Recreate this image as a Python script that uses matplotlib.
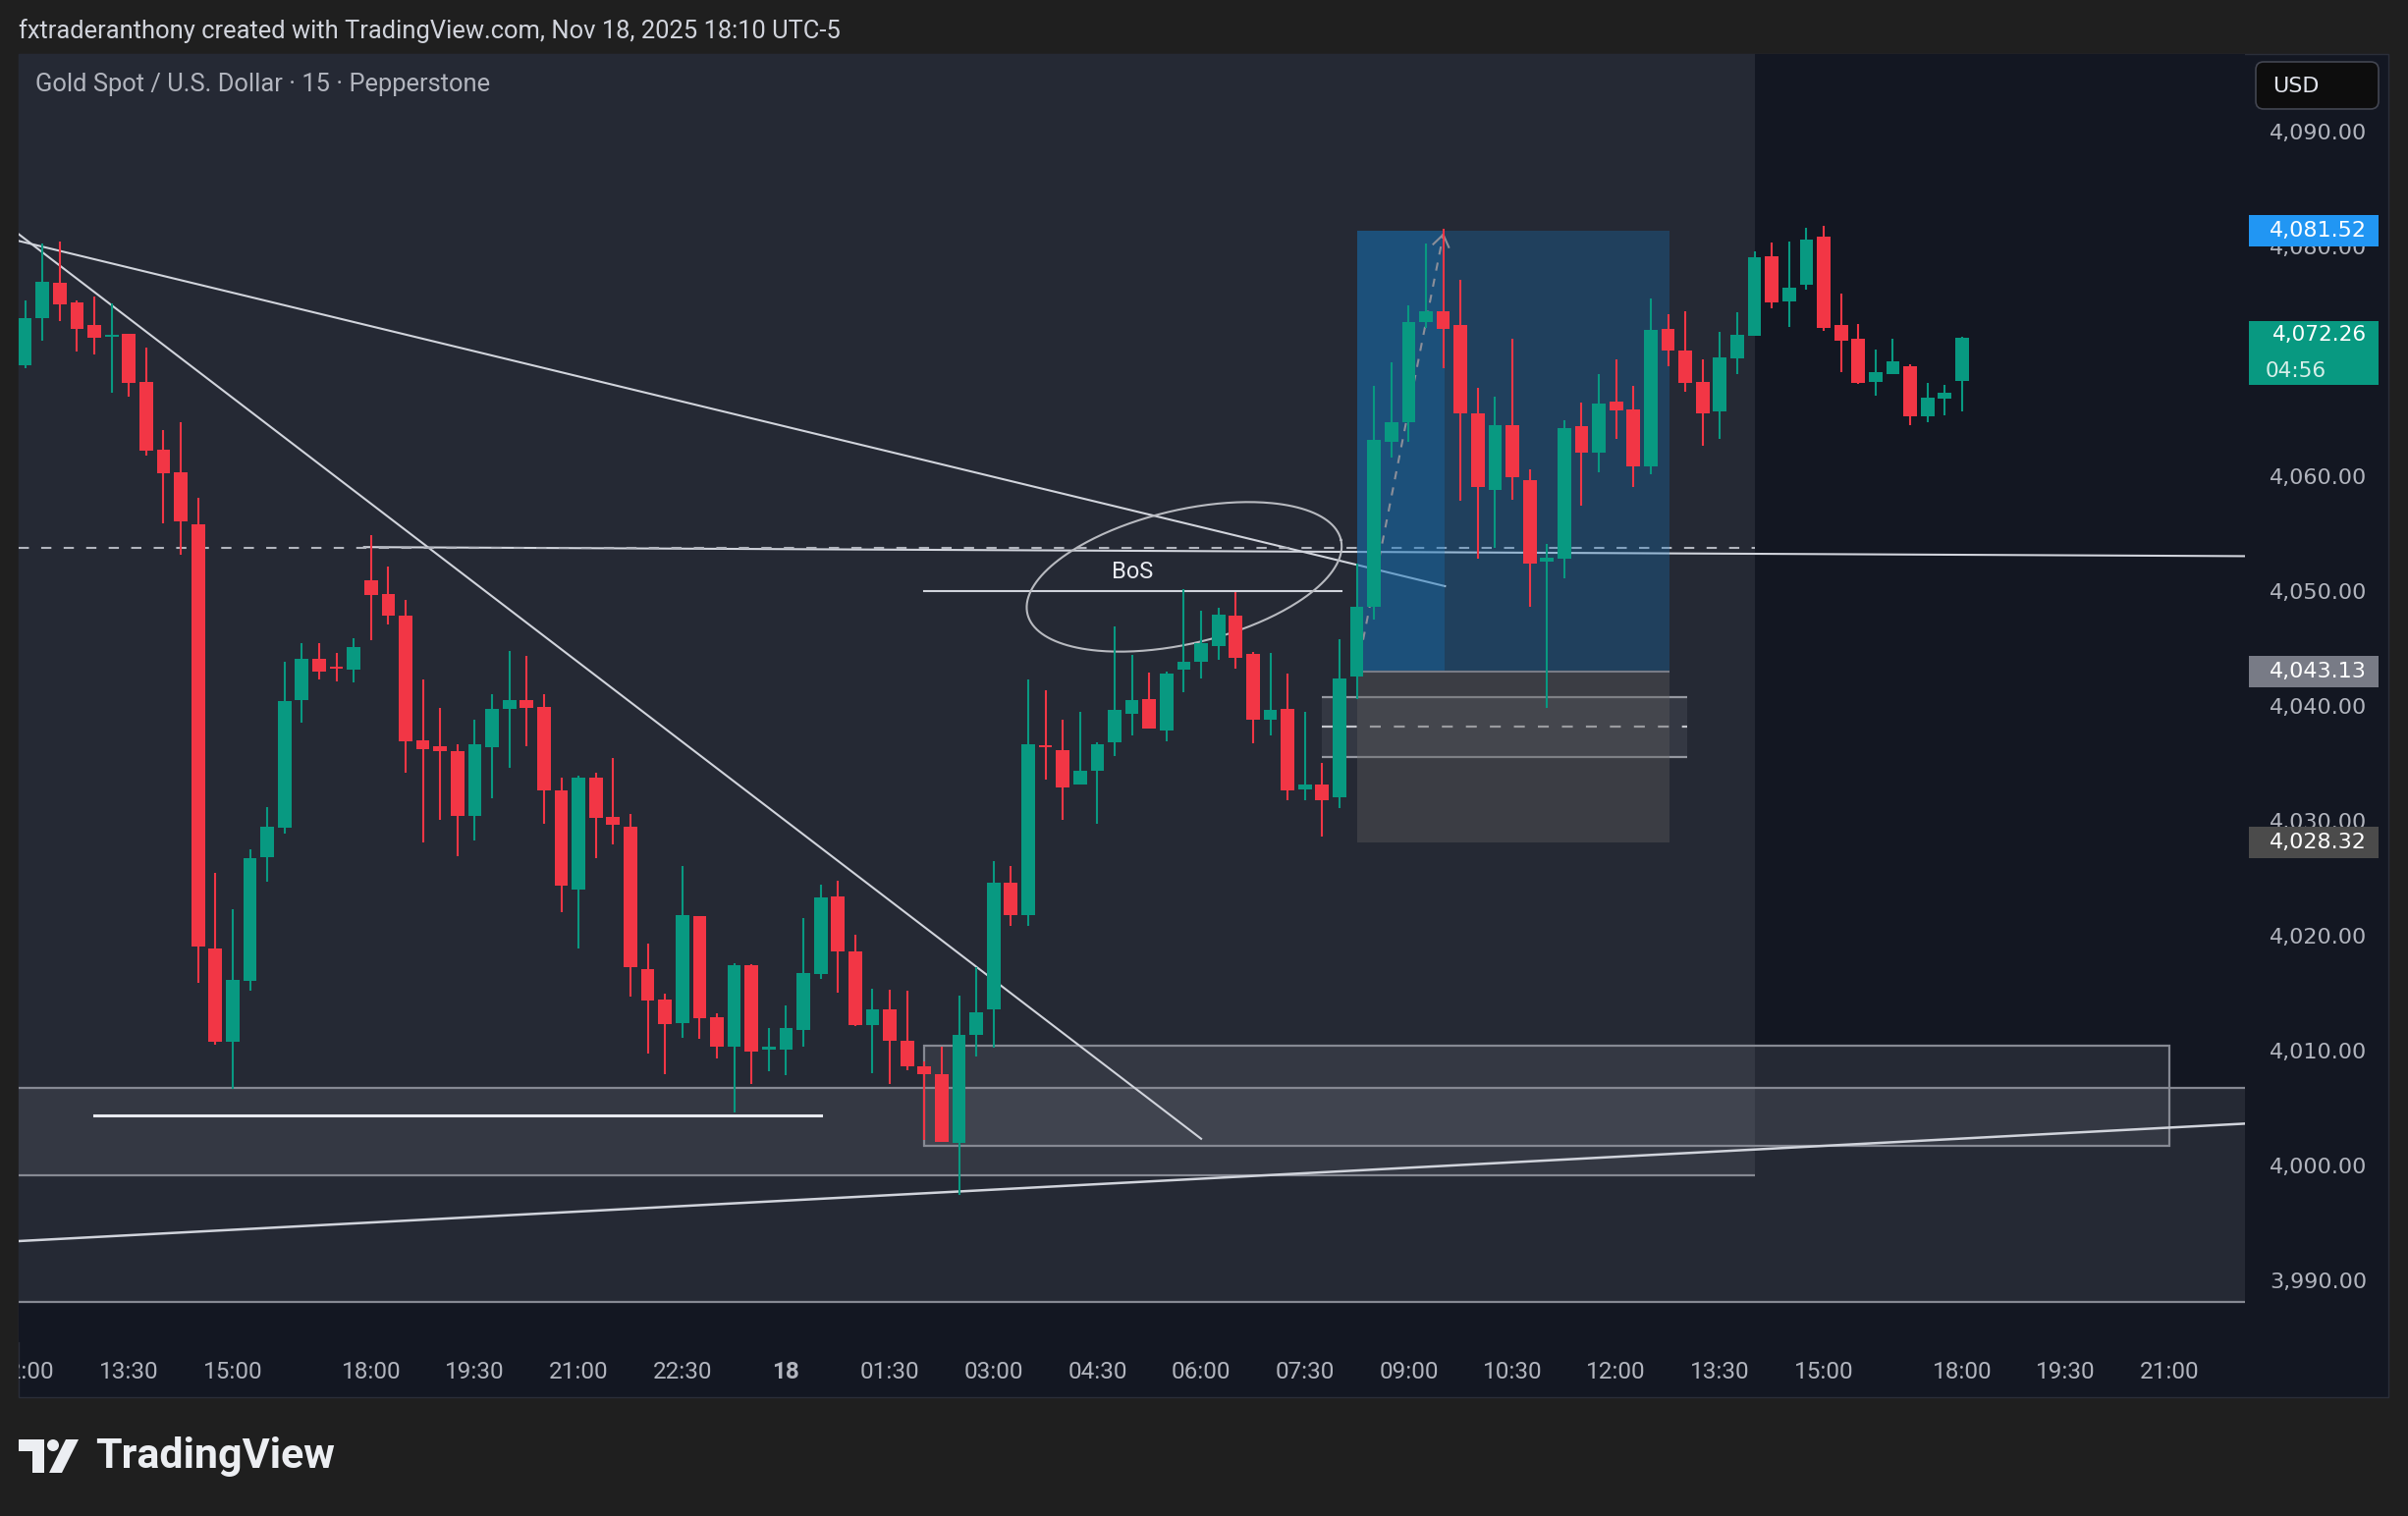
import numpy as np
import matplotlib.pyplot as plt
from matplotlib.patches import Rectangle, FancyBboxPatch, Polygon, Circle
from matplotlib.transforms import Affine2D, Bbox, TransformedBbox, blended_transform_factory

plt.rcParams['font.family'] = ['Roboto', 'DejaVu Sans']

W, H = 2452, 1544

# XAUUSD 15m candles, Nov 17 12:00 -> Nov 18 18:00 (market shut 17:00-18:00)
opens = [4069.8, 4073.9, 4077.0, 4075.3, 4073.3, 4072.3, 4072.6, 4068.4, 4062.5, 4060.5,
         4056.0, 4019.1, 4010.9, 4016.2, 4027.0, 4029.6, 4040.7, 4044.3, 4043.6, 4043.3,
         4051.1, 4049.9, 4048.0, 4037.2, 4036.7, 4036.2, 4030.6, 4036.6, 4039.9, 4040.7,
         4040.1, 4032.8, 4024.2, 4033.9, 4030.5, 4029.7, 4017.3, 4014.6, 4012.6, 4021.9,
         4013.1, 4010.5, 4017.6, 4010.3, 4010.3, 4012.0, 4016.8, 4023.6, 4018.8, 4012.4,
         4013.8, 4011.0, 4008.8, 4008.1, 4002.1, 4011.5, 4013.8, 4024.8, 4022.0, 4036.7,
         4036.3, 4033.3, 4034.5, 4037.0, 4039.5, 4040.8, 4038.0, 4043.3, 4044.0, 4045.4,
         4048.0, 4044.7, 4039.0, 4039.9, 4032.9, 4033.3, 4032.2, 4042.7, 4048.8, 4063.2,
         4064.9, 4073.6, 4074.5, 4073.3, 4065.6, 4059.0, 4064.6, 4059.8, 4052.7, 4053.0,
         4064.5, 4062.2, 4066.7, 4066.0, 4061.0, 4073.0, 4071.1, 4068.4, 4065.8, 4070.4,
         4072.4, 4079.3, 4075.4, 4076.8, 4081.0, 4073.3, 4072.1, 4068.4, 4069.1, 4069.7,
         4065.4, 4066.9, 4068.5]
highs = [4075.5, 4080.4, 4080.6, 4075.5, 4075.8, 4075.2, 4072.6, 4071.4, 4064.2, 4064.9,
         4058.3, 4025.6, 4022.5, 4027.7, 4031.4, 4044.0, 4045.6, 4045.6, 4044.8, 4046.1,
         4055.0, 4052.3, 4049.4, 4042.5, 4040.0, 4036.8, 4039.0, 4041.2, 4045.0, 4044.5,
         4041.2, 4033.9, 4034.1, 4034.4, 4035.6, 4030.8, 4019.5, 4015.1, 4026.2, 4021.9,
         4013.4, 4017.8, 4017.7, 4012.1, 4014.1, 4021.7, 4024.6, 4025.0, 4020.3, 4015.6,
         4015.5, 4015.4, 4009.2, 4010.5, 4015.0, 4017.4, 4026.7, 4026.2, 4042.5, 4041.5,
         4039.0, 4039.7, 4037.0, 4047.1, 4044.6, 4043.1, 4043.2, 4050.3, 4048.5, 4048.7,
         4050.1, 4044.9, 4044.8, 4043.0, 4039.7, 4035.2, 4046.0, 4052.6, 4068.0, 4070.1,
         4075.0, 4080.4, 4081.7, 4077.3, 4067.9, 4067.1, 4072.1, 4060.8, 4054.3, 4065.0,
         4066.6, 4069.1, 4070.3, 4068.0, 4075.6, 4074.3, 4074.5, 4070.3, 4072.7, 4074.4,
         4079.7, 4080.5, 4080.6, 4081.8, 4082.0, 4076.1, 4073.4, 4071.2, 4072.1, 4069.9,
         4068.3, 4068.1, 4072.3]
lows = [4069.6, 4072.0, 4073.7, 4071.0, 4070.8, 4067.4, 4067.1, 4062.0, 4056.1, 4053.3,
        4016.1, 4010.7, 4006.8, 4015.4, 4024.9, 4029.1, 4038.7, 4042.5, 4042.3, 4042.2,
        4045.9, 4047.3, 4034.4, 4028.3, 4030.3, 4027.1, 4028.5, 4032.1, 4034.8, 4036.7,
        4029.9, 4022.2, 4019.1, 4026.9, 4028.1, 4014.9, 4009.9, 4008.1, 4011.3, 4011.2,
        4009.5, 4004.8, 4007.3, 4008.4, 4008.0, 4010.5, 4016.4, 4015.2, 4012.3, 4008.2,
        4007.3, 4008.5, 4002.4, 4002.2, 3997.6, 4009.7, 4010.4, 4021.0, 4021.0, 4033.8,
        4030.3, 4033.3, 4029.9, 4035.8, 4037.6, 4038.2, 4037.1, 4041.4, 4042.6, 4044.2,
        4043.4, 4036.9, 4037.6, 4032.0, 4032.0, 4028.8, 4031.3, 4040.8, 4047.7, 4061.8,
        4063.2, 4073.1, 4069.6, 4058.0, 4053.0, 4053.9, 4058.1, 4048.8, 4040.0, 4051.3,
        4057.6, 4060.5, 4063.4, 4059.2, 4060.3, 4069.7, 4067.5, 4062.8, 4063.4, 4069.1,
        4072.4, 4074.8, 4073.2, 4076.4, 4072.8, 4069.2, 4068.2, 4067.2, 4069.1, 4064.6,
        4064.9, 4065.5, 4065.8]
closes = [4073.9, 4077.1, 4075.1, 4073.0, 4072.2, 4072.5, 4068.3, 4062.4, 4060.4, 4056.2,
          4019.2, 4010.9, 4016.3, 4026.9, 4029.7, 4040.6, 4044.3, 4043.2, 4043.4, 4045.3,
          4049.8, 4048.0, 4037.1, 4036.4, 4036.2, 4030.6, 4036.8, 4039.9, 4040.7, 4040.0,
          4032.8, 4024.5, 4033.9, 4030.4, 4029.8, 4017.4, 4014.5, 4012.5, 4022.0, 4013.0,
          4010.5, 4017.6, 4010.1, 4010.4, 4012.1, 4016.9, 4023.5, 4018.8, 4012.4, 4013.8,
          4011.0, 4008.8, 4008.1, 4002.2, 4011.5, 4013.5, 4024.8, 4022.0, 4036.8, 4036.6,
          4033.1, 4034.5, 4036.8, 4039.8, 4040.7, 4038.2, 4043.0, 4044.0, 4045.6, 4048.1,
          4044.4, 4039.0, 4039.8, 4032.8, 4033.3, 4032.0, 4042.6, 4048.8, 4063.3, 4064.9,
          4073.6, 4074.5, 4073.0, 4065.6, 4059.2, 4064.6, 4060.1, 4052.6, 4053.1, 4064.4,
          4062.2, 4066.5, 4065.9, 4061.0, 4072.9, 4071.1, 4068.3, 4065.6, 4070.5, 4072.5,
          4079.2, 4075.3, 4076.6, 4080.8, 4073.1, 4072.0, 4068.3, 4069.2, 4070.2, 4065.4,
          4067.0, 4067.4, 4072.26]

time_idx = [0, 6, 12, 20, 26, 32, 38, 44, 50, 56, 62, 68, 74, 80, 86, 92, 98, 104, 112, 118, 124]
time_labels = ["12:00", "13:30", "15:00", "18:00", "19:30", "21:00", "22:30", "18", "01:30",
               "03:00", "04:30", "06:00", "07:30", "09:00", "10:30", "12:00", "13:30", "15:00",
               "18:00", "19:30", "21:00"]
price_ticks = [4090, 4080, 4070, 4060, 4050, 4040, 4030, 4020, 4010, 4000, 3990]

entry, target, stop = 4043.13, 4081.52, 4028.32
countdown = "04:56"

BG = '#131722'
FRAME = '#1f1f1f'
LINE = '#d1d4dc'
TXT = '#b2b5be'
GREEN = '#089981'
RED = '#f23645'
ZONE = '#787b86'
ZB = '#868993'
BLUE = '#1576be'
AXFONT = dict(family=['DejaVu Sans'], fontsize=16)

fig = plt.figure(figsize=(W / 100, H / 100), dpi=100, facecolor=FRAME)
px = Affine2D().scale(1 / W, -1 / H).translate(0, 1) + fig.transFigure

# chart frame
fig.add_artist(Rectangle((19, 55), 2413, 1368, transform=px, fc=BG, ec='#2a2e39', lw=1, zorder=-1))

ax = fig.add_axes([19 / W, 1 - 1367 / H, (2286 - 19) / W, (1367 - 55) / H], facecolor=BG)
ax.set_xlim(-0.375, 128.36)
ax.set_ylim(3984.79, 4096.92)
for s in ax.spines.values():
    s.set_visible(False)
ax.set_xticks([])
ax.set_yticks([])

# pixels per candle / per dollar, for the drawings that are shaped on screen
sx = 2267 / (128.36 + 0.375)
sy = 1312 / (4096.92 - 3984.79)


def zone(x0, x1, y0, y1, z=1):
    ax.add_patch(Rectangle((x0, y0), x1 - x0, y1 - y0, fc=ZONE, alpha=0.19, lw=0, zorder=z))


# zones
zone(-1, 100.02, 3999.34, 4100)
ax.hlines(3999.34, -1, 100.02, color=ZB, lw=1.6, zorder=2)
zone(-1, 130, 3988.32, 4006.95)
ax.hlines([3988.32, 4006.95], -1, 130, color=ZB, lw=1.6, zorder=2)
zone(52, 124, 4001.85, 4010.62)
ax.add_patch(Rectangle((52, 4001.85), 72, 8.77, fill=False, ec=ZB, lw=1.6, zorder=2))

# trend lines
ax.plot([-0.4, 68.0], [4081.27, 4002.5], color=LINE, lw=1.5, zorder=3)
ax.plot([-0.4, 82.1], [4080.66, 4050.6], color=LINE, lw=1.5, zorder=3)
ax.plot([19.6, 130], [4054.0, 4053.2], color=LINE, lw=1.5, zorder=3)
ax.plot([-0.4, 100.02], [4053.95, 4053.95], color=TXT, lw=1.5, ls=(0, (5, 6)), zorder=3)
ax.plot([52, 76.1], [4050.2, 4050.2], color=LINE, lw=1.5, zorder=3)
ax.plot([4, 46], [4004.53, 4004.53], color='#e8eaf0', lw=2.2, zorder=3)
ax.plot([-0.4, 128.4], [3993.59, 4003.82], color=LINE, lw=1.8, zorder=3)

# BoS ellipse
t = np.linspace(0, 2 * np.pi, 300)
a, b, th = 164, 68, np.radians(13.3)
u = a * np.cos(t) * np.cos(th) - b * np.sin(t) * np.sin(th)
v = a * np.cos(t) * np.sin(th) + b * np.sin(t) * np.cos(th)
ax.plot(67.02 + u / sx, 4051.41 + v / sy, color='#b8bac0', lw=1.5, zorder=3)
ax.text(64.0, 4051.8, 'BoS', color='#e8eaf0', fontsize=17, ha='center', va='center', zorder=6)

# order block
zone(75, 96.1, 4035.75, 4040.94, z=3.5)
ax.hlines([4035.75, 4040.94], 75, 96.1, color='#9598a1', lw=1.6, zorder=3.5)
ax.hlines(4038.38, 75, 96.1, color='#c3c5cc', lw=1.6, ls=(0, (5, 6)), zorder=3.5)

# long position tool
ax.add_patch(Rectangle((77, entry), 95.1 - 77, target - entry, fc=BLUE, alpha=0.3, lw=0, zorder=4))
ax.add_patch(Rectangle((77, entry), 82.1 - 77, target - entry, fc=BLUE, alpha=0.3, lw=0, zorder=4))
ax.add_patch(Rectangle((77, stop), 95.1 - 77, entry - stop, fc='#5d5d5d', alpha=0.4, lw=0, zorder=4))
ax.hlines(entry, 77, 95.1, color='#787b86', lw=1.5, zorder=4)
tip = (82.0, 4081.2)
ax.plot([77, tip[0]], [entry, tip[1]], color='#8c8f99', lw=1.5, ls=(0, (4, 4)), zorder=4.5)
d = np.array([(77 - tip[0]) * sx, (entry - tip[1]) * sy])
d = d / np.hypot(*d) * 14
for ang in (35, -35):
    r = np.radians(ang)
    dx = d[0] * np.cos(r) - d[1] * np.sin(r)
    dy = d[0] * np.sin(r) + d[1] * np.cos(r)
    ax.plot([tip[0], tip[0] + dx / sx], [tip[1], tip[1] + dy / sy], color='#8c8f99', lw=1.5, zorder=4.5)

# candles
o = np.array(opens)
c = np.array(closes)
x = np.arange(len(o))
col = np.where(c >= o, GREEN, RED)
ax.vlines(x, lows, highs, colors=col, lw=1.5, zorder=5)
ax.bar(x, np.maximum(np.abs(c - o), 0.18), bottom=np.minimum(o, c), width=0.78, color=col, lw=0, zorder=5)

# time axis
clip = TransformedBbox(Bbox([[19 / W, 0], [2286 / W, 1]]), fig.transFigure)
xtr = blended_transform_factory(ax.transData, fig.transFigure)
for i, lab in zip(time_idx, time_labels):
    tt = fig.text(i, 1 - 1398 / H, lab, transform=xtr, ha='center', va='center', color=TXT,
                  fontsize=17.5, fontweight='bold' if lab == '18' else 'normal')
    tt.set_clip_box(clip)
    tt.set_clip_on(True)

# price axis: badges sit on top of the scale and hide what is under them
ytr = blended_transform_factory(fig.transFigure, ax.transData)
last = closes[-1]
badges = [(target, target - 1.37, target + 1.37, '#2196f3'),
          (last, last - 4.15, last + 1.4, GREEN),
          (entry, entry - 1.37, entry + 1.37, '#787b86'),
          (stop, stop - 1.37, stop + 1.37, '#4b4b4b')]

for p in price_ticks:
    if any(y0 < p - 0.9 and p + 0.9 < y1 for _, y0, y1, _ in badges):
        continue
    fig.text(2410 / W, p, f'{p:,.2f}', transform=ytr, ha='right', va='center', color=TXT,
             zorder=3, **AXFONT)

for p, y0, y1, color in badges:
    fig.add_artist(Rectangle((2290 / W, y0), (2422 - 2290) / W, y1 - y0, transform=ytr,
                             fc=color, lw=0, zorder=4))
    two_line = p == last
    fig.text(2410 / W, p + 0.25 if two_line else p, f'{p:,.2f}', transform=ytr, ha='right',
             va='center', color='white', zorder=5, family=['DejaVu Sans'],
             fontsize=15.5 if two_line else 16)
fig.text(2307 / W, last - 2.95, countdown, transform=ytr, ha='left', va='center',
         color='#d8efe9', zorder=5, family=['DejaVu Sans'], fontsize=15.5)

fig.add_artist(FancyBboxPatch((2297, 63), 125, 48, boxstyle='round,pad=0,rounding_size=8',
                              transform=px, fc='#0d0d0d', ec='#434651', lw=1.2, zorder=4))
fig.text(2314, 88, 'USD', transform=px, color='#e0e3eb', va='center', ha='left', zorder=5,
         **AXFONT)

# header and legend
fig.text(19, 32, 'fxtraderanthony created with TradingView.com, Nov 18, 2025 18:10 UTC-5',
         transform=px, color='#d1d4dc', fontsize=18.4, va='center', ha='left')
fig.text(36, 86, 'Gold Spot / U.S. Dollar · 15 · Pepperstone', transform=px, color=TXT,
         fontsize=18.4, va='center', ha='left', zorder=6)

# TradingView logo
LOGO = '#eceef2'
fig.add_artist(Polygon([(19, 1466), (45, 1466), (45, 1500), (33, 1500), (33, 1478), (19, 1478)],
                       closed=True, transform=px, fc=LOGO, lw=0))
fig.add_artist(Circle((54, 1472), 6, transform=px, fc=LOGO, lw=0))
fig.add_artist(Polygon([(50, 1500), (63, 1500), (80, 1466), (67, 1466)], closed=True,
                       transform=px, fc=LOGO, lw=0))
fig.text(97, 1483, 'TradingView', transform=px, color=LOGO, fontsize=31, fontweight='bold',
         va='center', ha='left')

fig.savefig('out.png', dpi=100, facecolor=FRAME)
